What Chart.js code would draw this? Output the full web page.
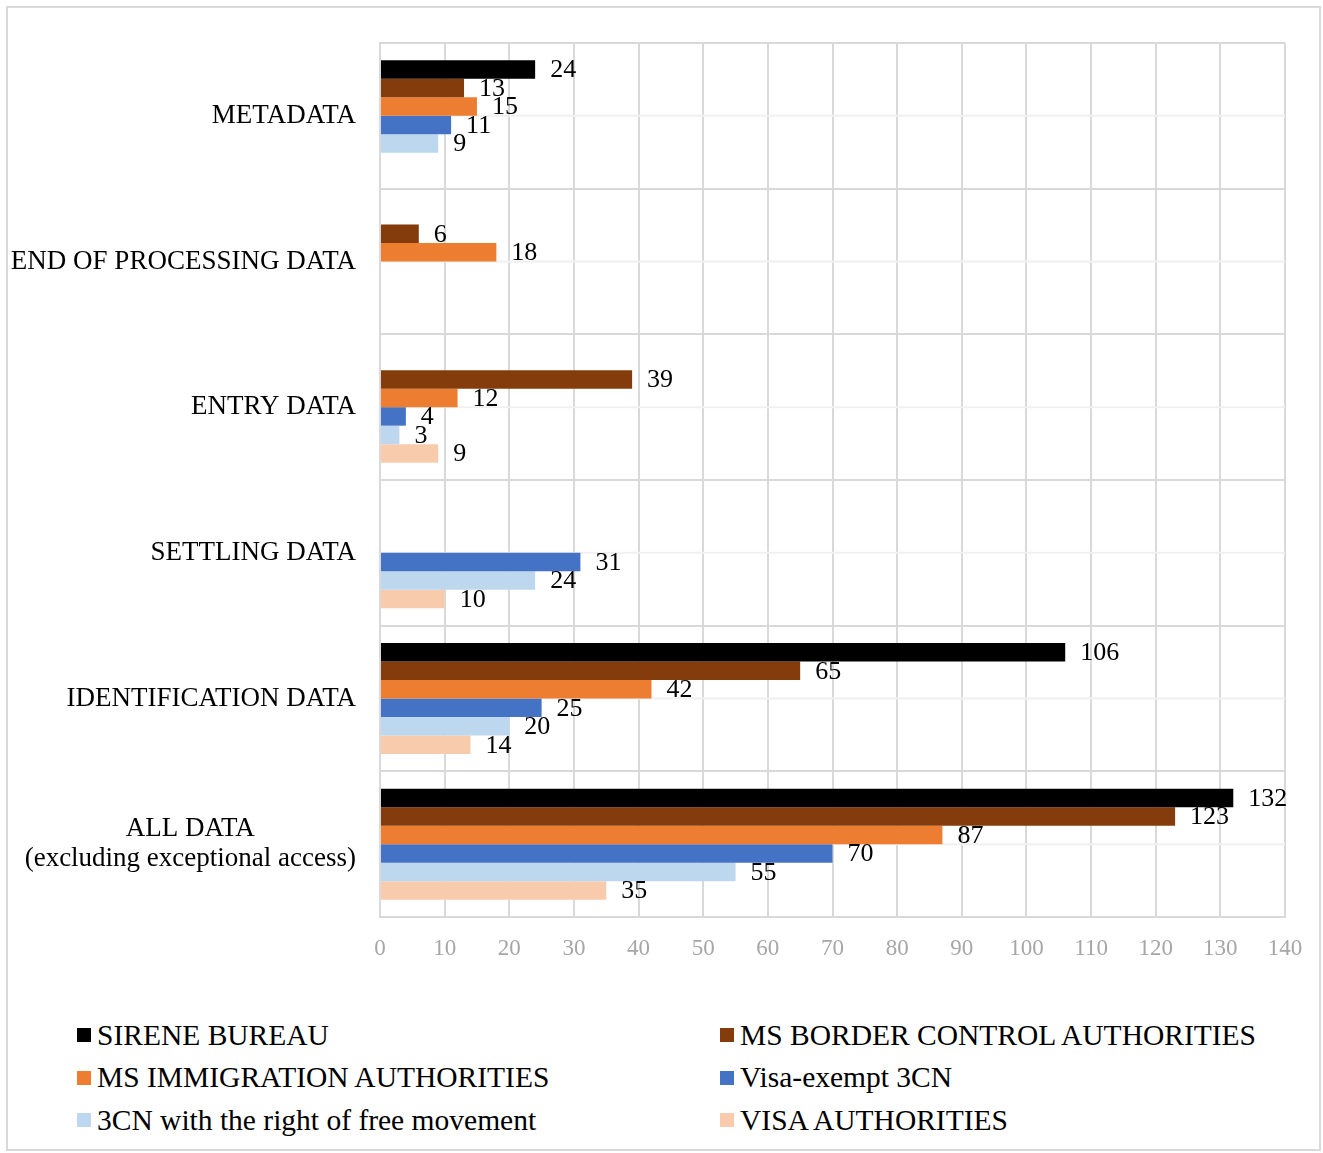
<!DOCTYPE html>
<html>
<head>
<meta charset="utf-8">
<script src="https://cdn.jsdelivr.net/npm/chart.js@4"></script>
<style>
  body { margin: 0; background: #fff; font-family: "Liberation Serif", "Times New Roman", serif; }
  #frame { position: absolute; left: 6px; top: 6px; width: 1311px; height: 1141px; border: 2px solid #d9d9d9; }
  #myChart { position: absolute; left: 0; top: 0; }
  .legend-item { position: absolute; display: flex; align-items: center; height: 32px; font-size: 29.5px; color: #000; white-space: nowrap; }
  .legend-box { width: 14px; height: 14px; margin-right: 6px; }
</style>
</head>
<body>
<div id="frame"></div>
<canvas id="myChart" width="1323" height="990"></canvas>
<div id="legend"></div>
<script>
// categories, top to bottom
const categories = [
    'METADATA',
    'END OF PROCESSING DATA',
    'ENTRY DATA',
    'SETTLING DATA',
    'IDENTIFICATION DATA',
    ['ALL DATA', '(excluding exceptional access)'],
];

// series values, same order as categories
const sireneBureau = [24, null, null, null, 106, 132];
const borderControl = [13, 6, 39, null, 65, 123];
const immigration = [15, 18, 12, null, 42, 87];
const visaExempt = [11, null, 4, 31, 25, 70];
const freeMovement = [9, null, 3, 24, 20, 55];
const visaAuthorities = [null, null, 9, 10, 14, 35];

const seriesNames = [
    'SIRENE BUREAU',
    'MS BORDER CONTROL AUTHORITIES',
    'MS IMMIGRATION AUTHORITIES',
    'Visa-exempt 3CN',
    '3CN with the right of free movement',
    'VISA AUTHORITIES',
];
const seriesValues = [sireneBureau, borderControl, immigration, visaExempt, freeMovement, visaAuthorities];
const seriesColors = ['#000000', '#843c0c', '#ed7d31', '#4472c4', '#bdd7ee', '#f8cbad'];

// x axis ticks 0..140
const xMin = 0;
const xMax = 140;
const xStep = 10;

const FONT = '"Liberation Serif", "Times New Roman", serif';

// faint lines through the middle of each category
const midLines = {
    id: 'midLines',
    beforeDatasetsDraw(chart) {
        const ctx = chart.ctx;
        const area = chart.chartArea;
        const y = chart.scales.y;
        ctx.save();
        ctx.strokeStyle = '#f0f0f0';
        ctx.lineWidth = 2;
        categories.forEach((c, i) => {
            const py = y.getPixelForTick(i);
            ctx.beginPath();
            ctx.moveTo(area.left + 1, py);
            ctx.lineTo(area.right, py);
            ctx.stroke();
        });
        ctx.restore();
    }
};

// category names, right aligned; multi-line names centred on each other
const categoryLabels = {
    id: 'categoryLabels',
    afterDraw(chart) {
        const ctx = chart.ctx;
        const y = chart.scales.y;
        const right = chart.chartArea.left - 24;
        const lineHeight = 30;
        ctx.save();
        ctx.font = '27px ' + FONT;
        ctx.fillStyle = '#000';
        ctx.textBaseline = 'middle';
        categories.forEach((c, i) => {
            const py = y.getPixelForTick(i);
            const lines = Array.isArray(c) ? c : [c];
            const maxW = Math.max(...lines.map(l => ctx.measureText(l).width));
            const cx = right - maxW / 2;
            ctx.textAlign = 'center';
            lines.forEach((l, k) => {
                const ly = py + (k - (lines.length - 1) / 2) * lineHeight;
                ctx.fillText(l, cx, ly);
            });
        });
        ctx.restore();
    }
};

// value labels at the end of each bar
const valueLabels = {
    id: 'valueLabels',
    afterDatasetsDraw(chart) {
        const ctx = chart.ctx;
        ctx.save();
        ctx.font = '26px ' + FONT;
        ctx.fillStyle = '#000';
        ctx.textAlign = 'left';
        ctx.textBaseline = 'middle';
        chart.data.datasets.forEach((ds, di) => {
            const meta = chart.getDatasetMeta(di);
            meta.data.forEach((bar, i) => {
                const v = ds.data[i];
                if (v === null || v === undefined) return;
                ctx.fillText(String(v), bar.x + 15, bar.y + 1);
            });
        });
        ctx.restore();
    }
};

const ctx = document.getElementById('myChart').getContext('2d');

const config = {
    type: 'bar',
    data: {
        labels: categories,
        datasets: seriesNames.map((name, i) => ({
            label: name,
            data: seriesValues[i],
            backgroundColor: seriesColors[i],
            borderWidth: 0,
            barPercentage: 1,
            categoryPercentage: 0.762,
        })),
    },
    options: {
        indexAxis: 'y',
        responsive: false,
        animation: false,
        layout: { padding: { top: 43, right: 38, left: 0, bottom: 0 } },
        plugins: {
            legend: { display: false },
            tooltip: { enabled: false },
        },
        scales: {
            x: {
                min: xMin,
                max: xMax,
                ticks: {
                    stepSize: xStep,
                    color: '#a6a6a6',
                    font: { family: FONT, size: 23 },
                    padding: 18,
                },
                grid: { color: '#d9d9d9', lineWidth: 2, drawTicks: false },
                border: { color: '#d9d9d9', width: 2 },
                afterFit(scale) { scale.height = 73; },
            },
            y: {
                ticks: { display: false },
                grid: { color: '#d9d9d9', lineWidth: 2, drawTicks: false, offset: true },
                border: { color: '#d9d9d9', width: 2 },
                afterFit(scale) { scale.width = 380; },
            },
        },
    },
    plugins: [midLines, valueLabels, categoryLabels],
};

const myChart = new Chart(ctx, config);

// legend, two columns
const legend = document.getElementById('legend');
seriesNames.forEach((name, i) => {
    const item = document.createElement('div');
    item.className = 'legend-item';
    item.style.left = (i % 2 === 0 ? 77 : 720) + 'px';
    item.style.top = (1035 + Math.floor(i / 2) * 42.5 - 16) + 'px';
    const box = document.createElement('span');
    box.className = 'legend-box';
    box.style.background = seriesColors[i];
    const text = document.createElement('span');
    text.textContent = name;
    item.appendChild(box);
    item.appendChild(text);
    legend.appendChild(item);
});
</script>
</body>
</html>
